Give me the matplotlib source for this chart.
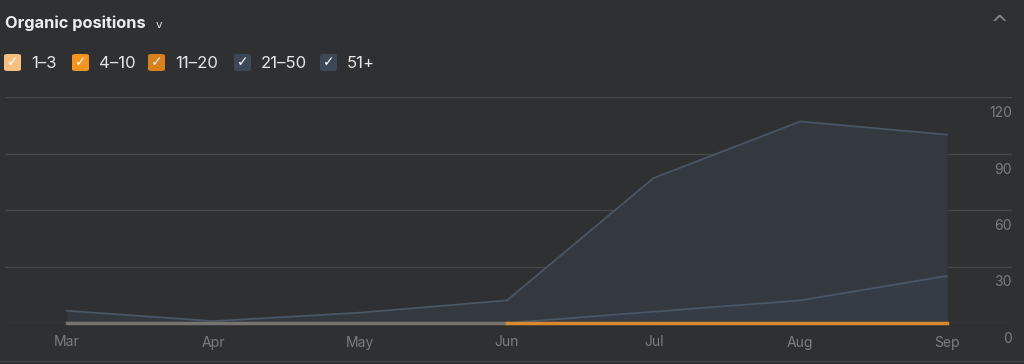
import matplotlib.pyplot as plt
import matplotlib.transforms as mtransforms
import numpy as np
from matplotlib.patches import FancyBboxPatch

plt.rcParams['font.family'] = ['Inter', 'DejaVu Sans']

# data
meses = ['Mar', 'Apr', 'May', 'Jun', 'Jul', 'Aug', 'Sep']
pos_11_20 = [0, 0, 0, 0, 1, 1, 1]
pos_21_50 = [0, 0, 0, 0, 5, 11, 24]
pos_51_mais = [6.5, 1, 5.5, 12, 71, 95, 75]
y_ticks = [0, 30, 60, 90, 120]

legenda = ['1–3', '4–10', '11–20', '21–50', '51+']
cores_leg = ['#f8c07f', '#f7941d', '#d9801a', '#3c4757', '#3c4757']

bg = '#2f3032'
fig = plt.figure(figsize=(10.24, 3.64), dpi=100, facecolor=bg)
W, H = 1024, 364
ax = fig.add_axes([5 / W, 1 - 323 / H, (1012 - 5) / W, (323 - 97) / H])
ax.set_facecolor(bg)

x = np.arange(len(meses))
s1 = np.array(pos_11_20, dtype=float)
s2 = s1 + np.array(pos_21_50)
s3 = s2 + np.array(pos_51_mais)

ax.fill_between(x, 0, s3, color='#343940', lw=0, zorder=2)
ax.fill_between(x, 0, s2, color='#363c45', lw=0, zorder=3)
ax.plot(x, s3, color='#485666', lw=1.3, zorder=4)
ax.plot(x, s2, color='#485666', lw=1.3, zorder=4)
# linha 11-20: cinza onde zero, laranja depois
ax.plot(x[:4], s1[:4] * 0, color='#77736f', lw=2.5, zorder=5, clip_on=False)
ax.plot(x[3:], s1[3:] * 0, color='#d98a2e', lw=2.5, zorder=5, clip_on=False)

ax.set_xlim(-(67 - 5) / 146.67, 6 + (1012 - 947) / 146.67)
ax.set_ylim(0, 120)
ax.set_yticks(y_ticks)
ax.yaxis.grid(True, color='#464749', lw=1)
ax.set_axisbelow(True)
ax.tick_params(axis='y', length=0, labelleft=False, labelright=False)
ax.set_xticks(x)
ax.set_xticklabels(meses, color='#7c7d80', fontsize=10)
ax.tick_params(axis='x', length=0, pad=9)
for s in ax.spines.values():
    s.set_visible(False)

off = mtransforms.ScaledTranslation(0, -16 / 100, fig.dpi_scale_trans)
for v in y_ticks:
    ax.text(1.0, v, str(v), transform=ax.get_yaxis_transform() + off,
            ha='right', va='center', color='#7c7d80', fontsize=10)

# titulo
fig.text(5 / W, 1 - 23 / H, 'Organic positions', color='#eeeeee', fontsize=11.8,
         fontweight='bold', va='center')
fig.text(159 / W, 1 - 25 / H, 'v', color='#dddddd', fontsize=8, va='center',
         ha='center', family='DejaVu Sans')
fig.text(1000 / W, 1 - 25 / H, '^', color='#8a8b8e', fontsize=15, va='center',
         ha='center', family='DejaVu Sans')

# legenda
xs = [4, 72, 148, 234, 320]
for xi, lab, c in zip(xs, legenda, cores_leg):
    box = FancyBboxPatch((xi / W, 1 - 71 / H), 17 / W, 17 / H,
                         boxstyle='round,pad=0,rounding_size=0.004',
                         transform=fig.transFigure, color=c, lw=0)
    fig.patches.append(box)
    fig.text((xi + 8.5) / W, 1 - 62.5 / H, '✓', color='white', fontsize=10,
             ha='center', va='center', family='DejaVu Sans', fontweight='bold')
    fig.text((xi + 27) / W, 1 - 63 / H, lab, color='#e6e6e6', fontsize=12,
             va='center')

fig.add_artist(plt.Line2D([0, 1], [1 - 361 / H] * 2, color='#404144', lw=1))

plt.savefig('out.png', dpi=100, facecolor=bg)
